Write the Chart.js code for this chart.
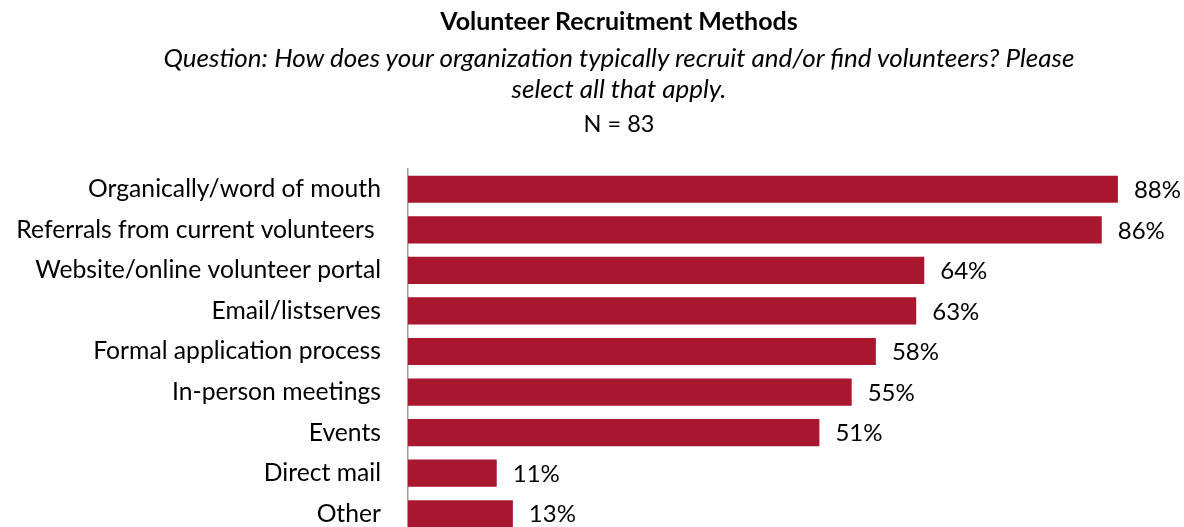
<!DOCTYPE html>
<html>
<head>
<meta charset="utf-8">
<script src="https://cdn.jsdelivr.net/npm/chart.js@4.4.1/dist/chart.umd.min.js"></script>
<style>
  html, body { margin: 0; padding: 0; background: #fff; overflow: hidden; }
  #wrap { position: relative; width: 1184px; height: 540px; }
  #head { position: absolute; left: 54px; right: 0; top: 0; text-align: center; color: #000; font-family: Lato, "Noto Sans", sans-serif; font-size: 25px; line-height: 30px; }
  #head div { position: absolute; left: 0; right: 0; white-space: nowrap; }
  #head .t { top: 5px; font-weight: bold; }
  #head .q1 { top: 42px; font-style: italic; font-size: 26px; }
  #head .q2 { top: 73px; font-style: italic; font-size: 26px; }
  #head .n { top: 108px; font-size: 23.5px; }
</style>
</head>
<body>
<div id="wrap">
  <canvas id="recruitChart" width="1184" height="540"></canvas>
  <div id="head">
    <div class="t">Volunteer Recruitment Methods</div>
    <div class="q1">Question: How does your organization typically recruit and/or find volunteers? Please</div>
    <div class="q2">select all that apply.</div>
    <div class="n">N = 83</div>
  </div>
</div>
<script>
const methods = [
    "Organically/word of mouth",
    "Referrals from current volunteers ",
    "Website/online volunteer portal",
    "Email/listserves",
    "Formal application process",
    "In-person meetings",
    "Events",
    "Direct mail",
    "Other"
];
const percents = [88, 86, 64, 63, 58, 55, 51, 11, 13];

const BAR_RED = "#A8172E";
const FONT = "Lato, 'Noto Sans', sans-serif";

// puts "xx%" just past the end of every bar
const valueLabels = {
    id: "valueLabels",
    afterDatasetsDraw(chart) {
        const ctx = chart.ctx;
        const meta = chart.getDatasetMeta(0);
        ctx.save();
        ctx.font = "24px " + FONT;
        ctx.fillStyle = "#000";
        ctx.textAlign = "left";
        ctx.textBaseline = "middle";
        meta.data.forEach((bar, i) => {
            ctx.fillText(percents[i] + "%", bar.x + 16, bar.y + 1);
        });
        ctx.restore();
    }
};

new Chart(document.getElementById("recruitChart"), {
    type: "bar",
    data: {
        labels: methods,
        datasets: [{
            data: percents,
            backgroundColor: BAR_RED,
            categoryPercentage: 0.67,
            barPercentage: 1.0
        }]
    },
    options: {
        responsive: false,
        animation: false,
        indexAxis: "y",
        layout: { padding: { top: 169, right: 4, bottom: 6, left: 0 } },
        plugins: {
            legend: { display: false },
            tooltip: { enabled: false }
        },
        scales: {
            x: {
                display: false,
                min: 0,
                max: 95.7
            },
            y: {
                afterFit(scale) {
                    // fixed label column; drop the extra top/bottom room the tick padding asks for
                    scale.width = 408;
                    scale.paddingTop = 0;
                    scale.paddingBottom = 0;
                },
                grid: { display: false, drawTicks: false },
                border: { display: true, color: "#9a9a9a", width: 1.5 },
                ticks: {
                    padding: 27,
                    color: "#000",
                    font: { family: FONT, size: 24.7 }
                }
            }
        }
    },
    plugins: [valueLabels]
});
</script>
</body>
</html>
